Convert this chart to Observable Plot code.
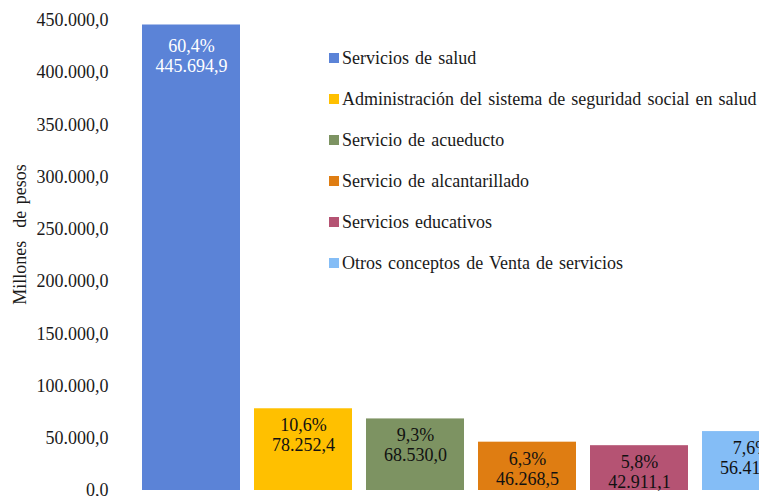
<!DOCTYPE html>
<html>
<head>
<meta charset="utf-8">
<script src="https://cdn.jsdelivr.net/npm/d3@7"></script>
<script src="https://cdn.jsdelivr.net/npm/@observablehq/plot@0.6"></script>
<style>
  html, body { margin: 0; padding: 0; background: #fff; overflow: hidden; }
  #wrap { position: relative; width: 759px; height: 496px; overflow: hidden; font-family: "Liberation Serif", "Times New Roman", serif; }
  #wrap svg { max-width: none !important; font-family: "Liberation Serif", "Times New Roman", serif !important; }
  #wrap svg text { font-family: "Liberation Serif", "Times New Roman", serif !important; font-variant: normal !important; font-variant-numeric: normal !important; }
  #legend { position: absolute; left: 329px; top: 0; }
  .item { position: absolute; white-space: nowrap; font-size: 18px; word-spacing: 1.6px; color: #1a1a1a; height: 20px; line-height: 20px; }
  .sw { position: absolute; left: 0; top: 5px; width: 10px; height: 10px; }
  .lbl { position: absolute; left: 13px; top: 0; }
</style>
</head>
<body>
<div id="wrap"><div id="legend"></div></div>
<script>
const categories = [
  "Servicios de salud",
  "Administración del sistema de seguridad social en salud",
  "Servicio de acueducto",
  "Servicio de alcantarillado",
  "Servicios educativos",
  "Otros conceptos de Venta de servicios"
];
const values = [445694.9, 78252.4, 68530.0, 46268.5, 42911.1, 56410.6];
const percents = ["60,4%", "10,6%", "9,3%", "6,3%", "5,8%", "7,6%"];
const colors = ["#5B83D7", "#FFC000", "#7D9362", "#DF7D12", "#B55373", "#84BDF6"];
const yTicks = [0, 50000, 100000, 150000, 200000, 250000, 300000, 350000, 400000, 450000];

const loc = d3.formatLocale({decimal: ",", thousands: ".", grouping: [3], currency: ["", ""]});
const fmt = loc.format(",.1f");
const SERIF = "Liberation Serif, Times New Roman, serif";

const data = categories.map((c, i) => ({cat: c, value: values[i], pct: percents[i], idx: i}));
const labelText = d => d.pct + "\n" + fmt(d.value);

const chart = Plot.plot({
  width: 820,
  height: 496,
  marginTop: 20,
  marginBottom: 6,
  marginLeft: 135,
  marginRight: 13,
  style: "font-family: 'Liberation Serif', 'Times New Roman', serif; font-size: 18px; color: #1a1a1a; background: transparent; max-width: none; overflow: visible;",
  x: {domain: categories, paddingInner: 0.125, paddingOuter: 0.0625, axis: null},
  y: {domain: [0, 450000]},
  color: {domain: categories, range: colors},
  marks: [
    Plot.barY(data, {x: "cat", y: "value", fill: "cat"}),
    Plot.text(data.filter(d => d.idx === 0), {
      x: "cat", y: "value", text: labelText,
      lineAnchor: "top", dy: 13, lineHeight: 1.12,
      fill: "#ffffff", fontSize: 18, fontFamily: SERIF
    }),
    Plot.text(data.filter(d => d.idx !== 0), {
      x: "cat", y: "value", text: labelText,
      lineAnchor: "top", dy: 8, lineHeight: 1.12,
      fill: "#111111", fontSize: 18, fontFamily: SERIF
    }),
    Plot.axisY({
      ticks: yTicks, tickFormat: fmt, tickSize: 0, tickPadding: 27,
      fontSize: 18, fontFamily: SERIF,
      label: "Millones  de pesos", labelAnchor: "center", labelArrow: "none", labelOffset: 122
    })
  ]
});
chart.style.position = "absolute";
chart.style.left = "0";
chart.style.top = "0";
chart.style.maxWidth = "none";
chart.setAttribute("width", 820);
document.getElementById("wrap").prepend(chart);

chart.querySelectorAll("[aria-label='y-axis label'] text").forEach(t => {
  t.style.fontSize = "18px";
  t.style.whiteSpace = "pre";
  t.style.wordSpacing = "2px";
  t.setAttribute("dx", "21");
});

const colorFn = chart.scale("color").apply;
const legend = document.getElementById("legend");
const rowTops = [48, 89, 130, 171, 212, 253];
categories.forEach((c, i) => {
  const it = document.createElement("div");
  it.className = "item";
  it.style.top = rowTops[i] + "px";
  const sw = document.createElement("div");
  sw.className = "sw";
  sw.style.background = colorFn(c);
  const lb = document.createElement("div");
  lb.className = "lbl";
  lb.textContent = c;
  it.appendChild(sw);
  it.appendChild(lb);
  legend.appendChild(it);
});
</script>
</body>
</html>
